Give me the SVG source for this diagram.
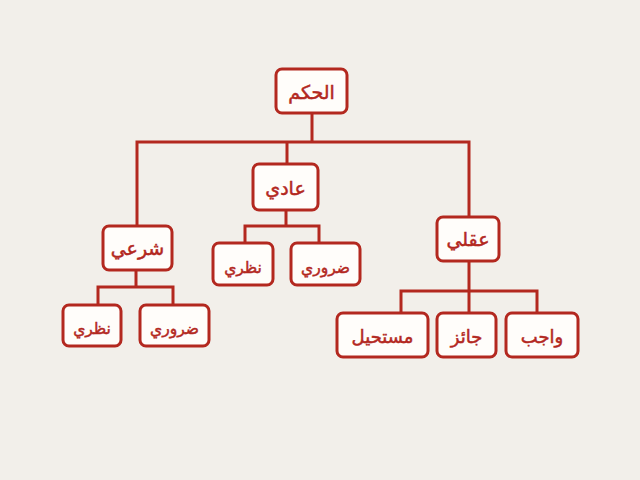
<svg xmlns="http://www.w3.org/2000/svg" width="640" height="480" viewBox="0 0 640 480">
<style>
.bg{fill:#f2efea}
.box{fill:#fffdfa;stroke:#b3281f;stroke-width:3}
.ln{fill:none;stroke:#b3281f;stroke-width:3}
text{font-family:"DejaVu Sans","Noto Sans",sans-serif;fill:#b3281f;text-anchor:middle;direction:rtl;stroke:#b3281f;stroke-width:0.5}
.t1{font-size:19px}
.t2{font-size:18px}
.t3{font-size:15.5px}
</style>
<rect class="bg" width="640" height="480"/>
<g id="connectors">
<path class="ln" d="M312 113V142M137 226V142H469V217M287 142V164"/>
<path class="ln" d="M286 210V226M245 243V226H319V243"/>
<path class="ln" d="M136 270V287M98 305V287H173V305"/>
<path class="ln" d="M469 261V291M401 313V291H537V313M469 291V313"/>
</g>
<g id="n-root"><rect class="box" x="276" y="69" width="71" height="44" rx="6"/><text class="t1" x="311.5" y="99">الحكم</text></g>
<g id="n-adi"><rect class="box" x="253" y="164" width="65" height="46" rx="6"/><text class="t1" x="285.5" y="195">عادي</text></g>
<g id="n-sharai"><rect class="box" x="103" y="226" width="69" height="44" rx="6"/><text class="t1" x="137.5" y="255">شرعي</text></g>
<g id="n-aqli"><rect class="box" x="437" y="217" width="62" height="44" rx="6"/><text class="t1" x="468" y="246">عقلي</text></g>
<g id="n-adi-nazari"><rect class="box" x="213" y="243" width="60" height="42" rx="6"/><text class="t3" x="243" y="273">نظري</text></g>
<g id="n-adi-daruri"><rect class="box" x="291" y="243" width="69" height="42" rx="6"/><text class="t3" x="325.5" y="273">ضروري</text></g>
<g id="n-sh-nazari"><rect class="box" x="63" y="305" width="58" height="41" rx="6"/><text class="t3" x="92" y="334">نظري</text></g>
<g id="n-sh-daruri"><rect class="box" x="140" y="305" width="69" height="41" rx="6"/><text class="t3" x="174.5" y="334">ضروري</text></g>
<g id="n-mustahil"><rect class="box" x="337" y="313" width="91" height="44" rx="6"/><text class="t2" x="382.5" y="343">مستحيل</text></g>
<g id="n-jaiz"><rect class="box" x="437" y="313" width="59" height="44" rx="6"/><text class="t2" x="466.5" y="343">جائز</text></g>
<g id="n-wajib"><rect class="box" x="506" y="313" width="72" height="44" rx="6"/><text class="t2" x="542" y="343">واجب</text></g>
</svg>
